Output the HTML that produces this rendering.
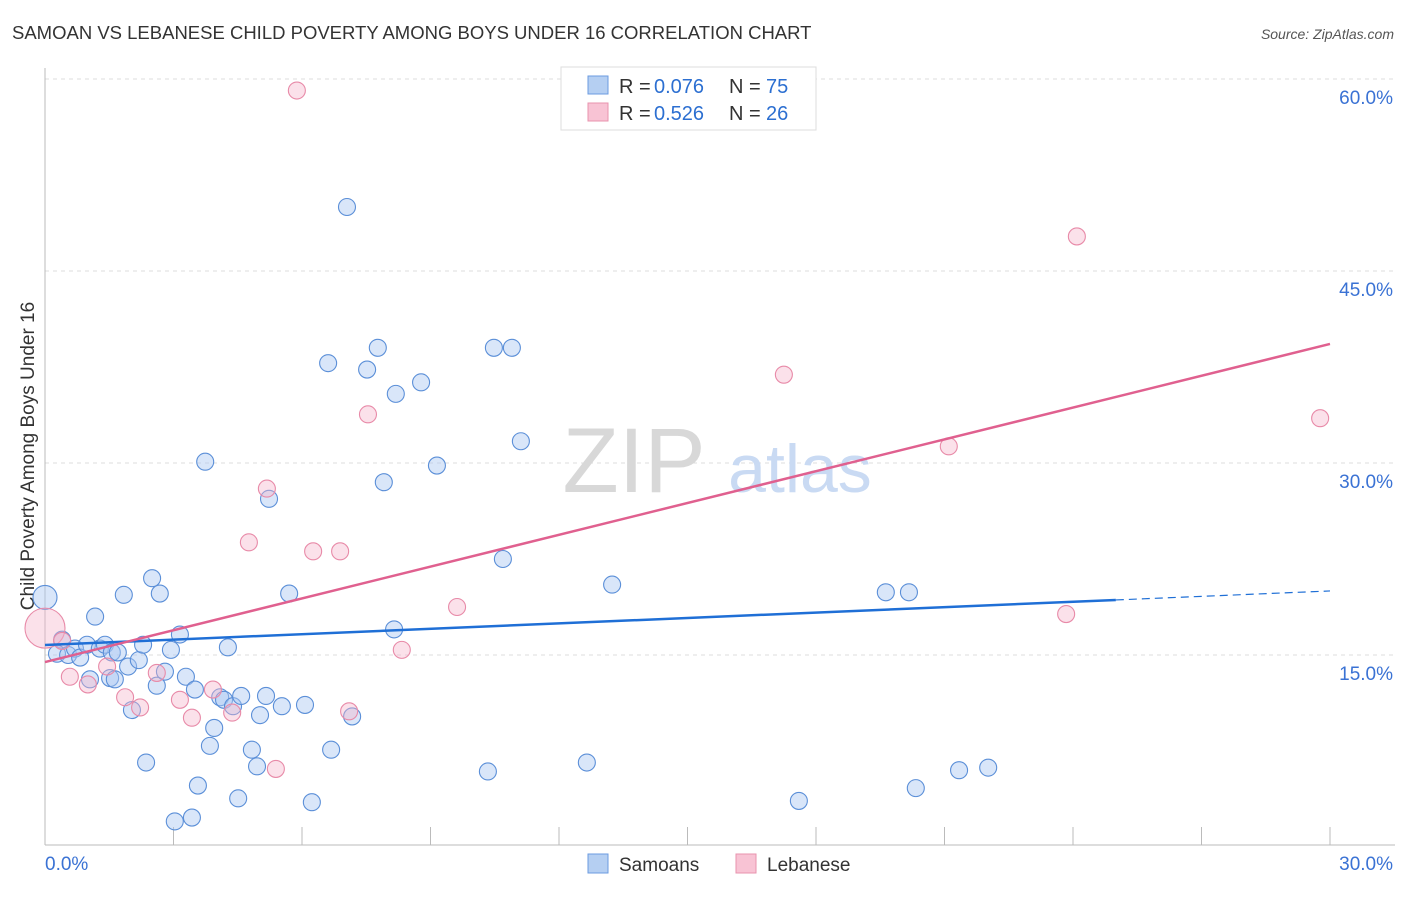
<!DOCTYPE html>
<html><head><meta charset="utf-8">
<style>
body{margin:0;background:#fff;font-family:"Liberation Sans",sans-serif;}
svg text{font-family:"Liberation Sans",sans-serif;}
</style></head>
<body>
<svg id="c" width="1406" height="892" xmlns="http://www.w3.org/2000/svg">
<text x="12" y="39" font-size="18.5" fill="#333">SAMOAN VS LEBANESE CHILD POVERTY AMONG BOYS UNDER 16 CORRELATION CHART</text>
<text x="1394" y="39" font-size="14" fill="#555" text-anchor="end" font-style="italic">Source: ZipAtlas.com</text>
<text x="34" y="456" font-size="19" fill="#333" text-anchor="middle" transform="rotate(-90 34 456)">Child Poverty Among Boys Under 16</text>
<g id="grid"></g>
<text x="634" y="492" font-size="92" fill="#d8d8d8" text-anchor="middle" font-family="Liberation Serif">ZIP</text>
<text x="800" y="492" font-size="68" fill="#c9daf3" text-anchor="middle">atlas</text>
<g id="pts"></g>
<g id="lines"></g>
<g>
<rect x="561" y="67" width="255" height="63" fill="#fff" stroke="#ddd"/>
<rect x="588" y="76" width="20" height="18" fill="#b5cff2" stroke="#6b9be0"/>
<rect x="588" y="103" width="20" height="18" fill="#f8c3d4" stroke="#e893ae"/>
<g font-size="20">
<text x="619" y="93" fill="#333">R =</text><text x="654" y="93" fill="#2c6fd1">0.076</text>
<text x="729" y="93" fill="#333">N =</text><text x="766" y="93" fill="#2c6fd1">75</text></g>
<g font-size="20">
<text x="619" y="120" fill="#333">R =</text><text x="654" y="120" fill="#2c6fd1">0.526</text>
<text x="729" y="120" fill="#333">N =</text><text x="766" y="120" fill="#2c6fd1">26</text></g>
</g>
<g>
<rect x="588" y="854" width="20" height="19" fill="#b5cff2" stroke="#6b9be0"/>
<text x="619" y="871" font-size="19" fill="#333">Samoans</text>
<rect x="736" y="854" width="20" height="19" fill="#f8c3d4" stroke="#e893ae"/>
<text x="767" y="871" font-size="19" fill="#333">Lebanese</text>
</g>
</svg>
<script>
const blueX=[0,0.40,0.28,0.54,0.70,0.82,0.98,1.17,1.28,1.40,1.56,1.70,1.84,1.52,1.63,1.05,1.94,2.03,2.19,2.29,2.36,2.50,2.68,2.61,2.80,2.94,3.15,3.03,3.29,3.43,3.50,3.57,3.74,3.85,3.95,4.09,4.18,4.27,4.39,4.51,4.58,4.83,4.95,5.02,5.16,5.23,5.53,5.70,6.07,6.23,6.61,6.68,7.05,7.17,7.52,7.77,7.91,8.15,8.19,8.78,9.15,10.34,10.48,10.69,10.90,11.11,12.65,13.24,17.60,19.63,20.17,20.33,21.34,22.02];
const blueY=[19.5,16.2,15.1,15.0,15.5,14.8,15.8,18.0,15.5,15.8,15.2,15.2,19.7,13.2,13.1,13.1,14.1,10.7,14.6,15.8,6.6,21.0,19.8,12.6,13.7,15.4,16.6,2.0,13.3,2.3,12.3,4.8,30.1,7.9,9.3,11.7,11.5,15.6,11.0,3.8,11.8,7.6,6.3,10.3,11.8,27.2,11.0,19.8,11.1,3.5,37.8,7.6,50.0,10.2,37.3,39.0,28.5,17.0,35.4,36.3,29.8,5.9,39.0,22.5,39.0,31.7,6.6,20.5,3.6,19.9,19.9,4.6,6.0,6.2];
const pinkX=[0,0.40,0.58,1.00,1.45,1.87,2.22,2.61,3.15,3.43,3.92,4.37,4.76,5.18,5.39,5.88,6.26,6.89,7.10,7.54,8.33,9.62,17.25,21.10,23.84,24.09,29.77];
const pinkY=[17.1,16.1,13.3,12.7,14.1,11.7,10.9,13.6,11.5,10.1,12.3,10.5,23.8,28.0,6.1,59.1,23.1,23.1,10.6,33.8,15.4,18.75,36.9,31.3,18.2,47.7,33.5];
const blueTrend=[15.78,19.3,25,30];
const pinkTrend=[14.45,39.3];
const yTicks=[15,30,45,60];
const yTickLabels=["15.0%","30.0%","45.0%","60.0%"];
const NS='http://www.w3.org/2000/svg';
const X=v=>45+v/30*1285, Y=v=>847-v/15*192;
function mk(t,a,p){const e=document.createElementNS(NS,t);for(const k in a)e.setAttribute(k,a[k]);document.getElementById(p).appendChild(e);return e;}
yTicks.forEach((t,i)=>{
 const g=mk('line',{x1:45,x2:1395,y1:Y(t),y2:Y(t),stroke:'#ddd','stroke-dasharray':'4,4'},'grid');
 
 
 const l=mk('text',{x:1393,y:Y(t)+25,'font-size':19,fill:'#3a72d4','text-anchor':'end'},'grid');l.textContent=yTickLabels[i];
 
 
});
mk('line',{x1:45,x2:45,y1:68,y2:845,stroke:'#bbb'},'grid');
mk('line',{x1:45,x2:1395,y1:845,y2:845,stroke:'#bbb'},'grid');
for(let i=0;i<=10;i++){const t=mk('line',{x1:X(i*3),x2:X(i*3),y1:827,y2:845,stroke:'#bbb'},'grid');
 
 }
[[0,"0.0%",'start',45],[30,"30.0%",'end',1393]].forEach(d=>{const l=mk('text',{x:d[3],y:870,'font-size':19,fill:'#3a72d4','text-anchor':d[2]},'grid');l.textContent=d[1];
 
 });
blueX.forEach((x,i)=>{const c=mk('circle',{cx:X(x),cy:Y(blueY[i]),r:i==0?12:8.5,fill:'rgba(170,200,242,0.45)',stroke:'#5b8fd8','stroke-width':1.1},'pts');
 
 });
pinkX.forEach((x,i)=>{const c=mk('circle',{cx:X(x),cy:Y(pinkY[i]),r:i==0?20:8.5,fill:'rgba(245,180,202,0.4)',stroke:'#e88aa8','stroke-width':1.1},'pts');
 
 });
const slope=(blueTrend[1]-blueTrend[0])/blueTrend[2];
let b=mk('line',{x1:X(0),y1:Y(blueTrend[0]),x2:X(blueTrend[2]),y2:Y(blueTrend[1]),stroke:'#1f6fd6','stroke-width':2.5},'lines');


b=mk('line',{x1:X(blueTrend[2]),y1:Y(blueTrend[1]),x2:X(blueTrend[3]),y2:Y(blueTrend[0]+slope*blueTrend[3]),stroke:'#1f6fd6','stroke-width':1.2,'stroke-dasharray':'8,5'},'lines');


b=mk('line',{x1:X(0),y1:Y(pinkTrend[0]),x2:X(30),y2:Y(pinkTrend[1]),stroke:'#e0608f','stroke-width':2.5},'lines');


</script>
</body></html>
